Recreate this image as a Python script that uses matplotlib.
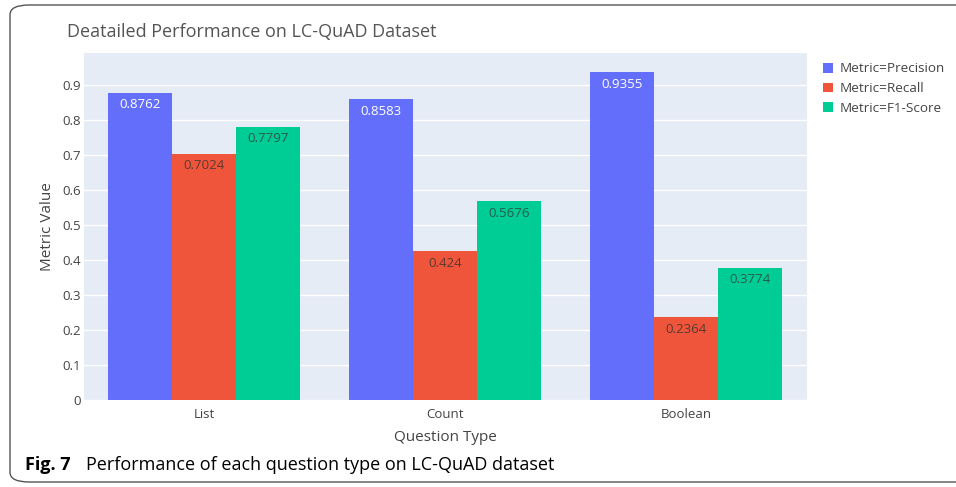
#grouped bar chart - LC-QuAD per question type
import numpy as np
import matplotlib.pyplot as plt
from matplotlib.patches import FancyBboxPatch

W, H = 956, 487
plt.rcParams['font.family'] = ['Open Sans', 'DejaVu Sans']

question_types = ['List', 'Count', 'Boolean']
metrics = ['Precision', 'Recall', 'F1-Score']
precision = [0.8762, 0.8583, 0.9355]
recall = [0.7024, 0.424, 0.2364]
f1_score = [0.7797, 0.5676, 0.3774]

colors = ['#636EFA', '#EF553B', '#00CC96']
label_colors = ['white', '#5a3a30', '#2a5a48']

fig = plt.figure(figsize=(W / 100, H / 100), dpi=100)

# px -> figure fraction
def fx(px):
    return px / W

def fy(py):
    return 1 - py / H

# rounded frame around the figure
frame = FancyBboxPatch((fx(10), fy(482)), fx(1000), fy(5) - fy(482),
                       boxstyle='round,pad=0,rounding_size=0.02',
                       transform=fig.transFigure, fill=False,
                       edgecolor='#555555', linewidth=1.0)
fig.add_artist(frame)

ax = fig.add_axes([fx(83.5), fy(400), fx(806.5) - fx(83.5), fy(53) - fy(400)])
ax.set_facecolor('#E5ECF6')
for s in ax.spines.values():
    s.set_visible(False)

x = np.arange(len(question_types))
bw = 0.8 / 3
series = [precision, recall, f1_score]
for i, vals in enumerate(series):
    pos = x + (i - 1) * bw
    ax.bar(pos, vals, width=bw, color=colors[i], label='Metric=' + metrics[i], zorder=2)
    for p, v in zip(pos, vals):
        ax.annotate(str(v), (p, v), xytext=(0, -4), textcoords='offset points',
                    ha='center', va='top', fontsize=9.5, color=label_colors[i], zorder=3)

ax.set_xlim(-0.5, 2.5)
ax.set_ylim(0, 0.99)
ax.set_yticks(np.arange(0, 1.0, 0.1))
ax.set_yticklabels(['0'] + ['%.1f' % v for v in np.arange(0.1, 1.0, 0.1)])
ax.set_xticks(x)
ax.set_xticklabels(question_types)
ax.grid(axis='y', color='white', linewidth=1.0, zorder=0)
ax.set_axisbelow(True)
ax.tick_params(length=0, labelsize=9.5, colors='#444444')
ax.tick_params(axis='y', pad=2)
ax.tick_params(axis='x', pad=6)

ax.set_xlabel('Question Type', fontsize=11, color='#444444', labelpad=6)
ax.set_ylabel('Metric Value', fontsize=11, color='#444444', labelpad=5)

fig.text(fx(67), fy(32), 'Deatailed Performance on LC-QuAD Dataset',
         fontsize=13, color='#555555', va='center', ha='left')

leg = ax.legend(loc='upper left', bbox_to_anchor=(1.01, 1.0), frameon=False,
                fontsize=9.7, handlelength=0.75, handleheight=0.75,
                handletextpad=0.5, labelspacing=0.5, borderaxespad=0.3)
for t in leg.get_texts():
    t.set_color('#444444')

fig.text(fx(25), fy(465), 'Fig. 7', fontsize=13, fontweight='bold', va='center', ha='left')
fig.text(fx(86), fy(465), 'Performance of each question type on LC-QuAD dataset',
         fontsize=13, va='center', ha='left')

fig.savefig('out.png', dpi=100)
